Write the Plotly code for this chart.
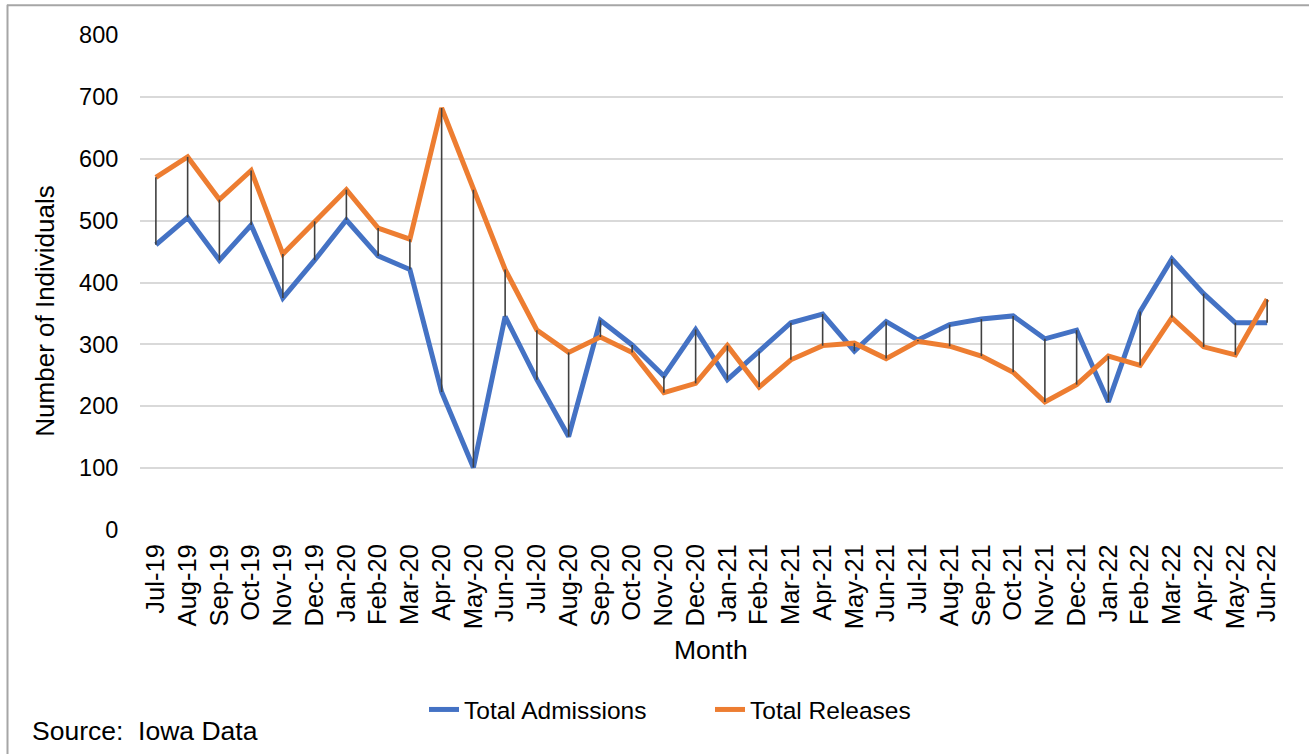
import plotly.graph_objects as go

months = ["Jul-19", "Aug-19", "Sep-19", "Oct-19", "Nov-19", "Dec-19", "Jan-20", "Feb-20", "Mar-20",
          "Apr-20", "May-20", "Jun-20", "Jul-20", "Aug-20", "Sep-20", "Oct-20", "Nov-20", "Dec-20",
          "Jan-21", "Feb-21", "Mar-21", "Apr-21", "May-21", "Jun-21", "Jul-21", "Aug-21", "Sep-21",
          "Oct-21", "Nov-21", "Dec-21", "Jan-22", "Feb-22", "Mar-22", "Apr-22", "May-22", "Jun-22"]

admissions = [461, 505, 436, 493, 375, 436, 501, 443, 421, 223, 101, 345, 243, 151, 339, 299, 249, 324,
              243, 289, 335, 349, 289, 337, 307, 332, 341, 346, 309, 323, 207, 353, 438, 382, 335, 335]

releases = [570, 603, 534, 581, 446, 499, 550, 488, 470, 682, 550, 421, 323, 287, 312, 287, 222, 237,
            298, 231, 275, 298, 302, 277, 305, 297, 281, 255, 207, 235, 281, 266, 343, 296, 283, 373]

y_ticks = [0, 100, 200, 300, 400, 500, 600, 700, 800]

FONT = "Liberation Sans, Arial, sans-serif"
BLUE = "#4472C4"
ORANGE = "#ED7D31"

# high-low connector lines
hl_x, hl_y = [], []
for m, a, r in zip(months, admissions, releases):
    hl_x += [m, m, None]
    hl_y += [min(a, r), max(a, r), None]

fig = go.Figure()
fig.add_trace(go.Scatter(x=months, y=admissions, mode="lines", name="Total Admissions",
                         line=dict(color=BLUE, width=5)))
fig.add_trace(go.Scatter(x=months, y=releases, mode="lines", name="Total Releases",
                         line=dict(color=ORANGE, width=5)))
fig.add_trace(go.Scatter(x=hl_x, y=hl_y, mode="lines", showlegend=False, hoverinfo="skip",
                         line=dict(color="#404040", width=1.6)))

PL, PR, PT, PB = 140, 1283, 35.2, 530.4  # plot area in screenshot pixels
pw, ph = PR - PL, PB - PT
W, H = 1309, 754
ml, mt = PL, PT
mr = W - ml - pw
mb = H - mt - ph


def px_x(p):
    return (p - PL) / pw


def px_y(p):
    return (PB - p) / ph


fig.update_layout(
    width=W, height=H,
    margin=dict(l=ml, r=mr, t=mt, b=mb, pad=0),
    paper_bgcolor="white", plot_bgcolor="white",
    font=dict(family=FONT, color="#000000", size=24),
    showlegend=True,
    legend=dict(orientation="h", x=px_x(424), xanchor="left", y=px_y(710), yanchor="middle",
                font=dict(size=24.5, family=FONT), entrywidth=241, entrywidthmode="pixels",
                bgcolor="rgba(0,0,0,0)"),
    xaxis=dict(type="category", categoryorder="array", categoryarray=months,
               range=[-0.5, len(months) - 0.5], tickangle=-90,
               tickfont=dict(size=25.5, family=FONT), showgrid=False, showline=False,
               ticks="outside", ticklen=3, tickcolor="rgba(0,0,0,0)", zeroline=False),
    yaxis=dict(range=[0, 800], tickvals=y_ticks, ticktext=[str(v) for v in y_ticks],
               tickfont=dict(size=23.5, family=FONT), showgrid=True, gridcolor="#d9d9d9",
               gridwidth=1.5, zeroline=False, showline=False,
               ticks="outside", ticklen=16, tickcolor="rgba(0,0,0,0)"),
    annotations=[
        dict(text="Month", xref="paper", yref="paper", x=px_x(711), y=px_y(650), xanchor="center",
             yanchor="middle", showarrow=False, font=dict(size=26.5, family=FONT)),
        dict(text="Number of Individuals", xref="paper", yref="paper", x=px_x(45), y=px_y(312),
             xanchor="center", yanchor="middle", textangle=-90, showarrow=False,
             font=dict(size=26, family=FONT)),
        dict(text="Source:\u00a0 Iowa Data", xref="paper", yref="paper", x=px_x(30), y=px_y(731),
             xanchor="left", yanchor="middle", showarrow=False, font=dict(size=26.5, family=FONT)),
    ],
    shapes=[
        dict(type="line", xref="paper", yref="paper", x0=px_x(7), x1=px_x(1330), y0=px_y(5.5), y1=px_y(5.5),
             line=dict(color="#a6a6a6", width=2)),
        dict(type="line", xref="paper", yref="paper", x0=px_x(7.5), x1=px_x(7.5), y0=px_y(5), y1=px_y(770),
             line=dict(color="#a6a6a6", width=2)),
    ],
)

fig.write_html("out.html", config={"displayModeBar": False},
               post_script="document.body.style.margin='0';document.body.style.overflow='hidden';")
